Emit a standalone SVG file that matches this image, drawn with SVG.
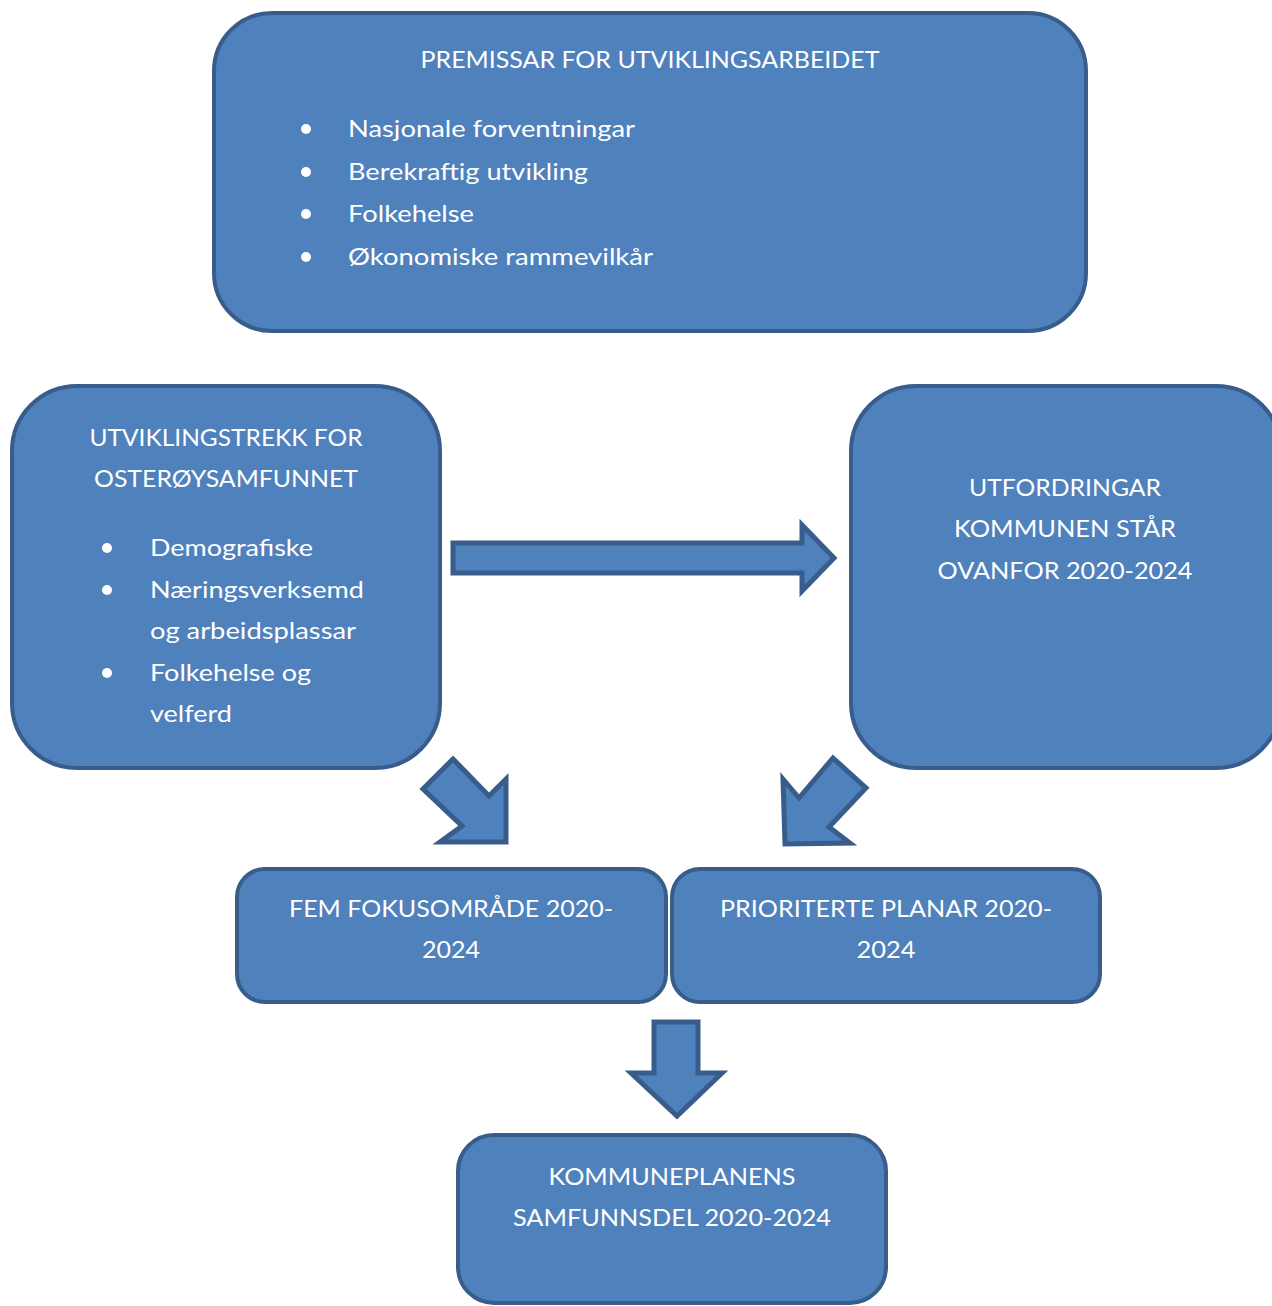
<svg xmlns="http://www.w3.org/2000/svg" width="1272" height="1306" viewBox="0 0 1272 1306">
<style>
.box{fill:#4F81BD;stroke:#385D8A;stroke-width:4}
.arr{fill:#4F81BD;stroke:#385D8A;stroke-width:5;stroke-linejoin:miter}
text{font-family:Lato,"Liberation Sans",sans-serif;font-size:24px;fill:#FFFFFF}
.c{text-anchor:middle}
.dot{fill:#FFFFFF}
</style>
<rect width="1272" height="1306" fill="#FFFFFF"/>
<g id="premissar">
<rect class="box" x="214" y="13" width="872" height="318" rx="58" ry="58"/>
<text x="650" y="68" class="c" textLength="459" lengthAdjust="spacingAndGlyphs">PREMISSAR FOR UTVIKLINGSARBEIDET</text>
<circle class="dot" cx="306" cy="129" r="5"/>
<circle class="dot" cx="306" cy="172" r="5"/>
<circle class="dot" cx="306" cy="214" r="5"/>
<circle class="dot" cx="306" cy="257" r="5"/>
<text x="348" y="137" textLength="287" lengthAdjust="spacingAndGlyphs">Nasjonale forventningar</text>
<text x="348" y="180" textLength="240" lengthAdjust="spacingAndGlyphs">Berekraftig utvikling</text>
<text x="348" y="222" textLength="126" lengthAdjust="spacingAndGlyphs">Folkehelse</text>
<text x="348" y="265" textLength="305" lengthAdjust="spacingAndGlyphs">Økonomiske rammevilkår</text>
</g>
<g id="utviklingstrekk">
<rect class="box" x="12" y="386" width="428" height="382" rx="65" ry="65"/>
<text x="226" y="446" class="c" textLength="273" lengthAdjust="spacingAndGlyphs">UTVIKLINGSTREKK FOR</text>
<text x="226" y="487" class="c" textLength="264" lengthAdjust="spacingAndGlyphs">OSTERØYSAMFUNNET</text>
<circle class="dot" cx="107" cy="548" r="5"/>
<circle class="dot" cx="107" cy="590" r="5"/>
<circle class="dot" cx="107" cy="673" r="5"/>
<text x="150" y="556" textLength="163" lengthAdjust="spacingAndGlyphs">Demografiske</text>
<text x="150" y="598" textLength="214" lengthAdjust="spacingAndGlyphs">Næringsverksemd</text>
<text x="150" y="639" textLength="206" lengthAdjust="spacingAndGlyphs">og arbeidsplassar</text>
<text x="150" y="681" textLength="161" lengthAdjust="spacingAndGlyphs">Folkehelse og</text>
<text x="150" y="722" textLength="82" lengthAdjust="spacingAndGlyphs">velferd</text>
</g>
<g id="utfordringar">
<rect class="box" x="851" y="386" width="430" height="382" rx="65" ry="65"/>
<text x="1065" y="496" class="c" textLength="192" lengthAdjust="spacingAndGlyphs">UTFORDRINGAR</text>
<text x="1065" y="537" class="c" textLength="222" lengthAdjust="spacingAndGlyphs">KOMMUNEN STÅR</text>
<text x="1065" y="579" class="c" textLength="255" lengthAdjust="spacingAndGlyphs">OVANFOR 2020-2024</text>
</g>
<g id="fokusomrade">
<rect class="box" x="237" y="869" width="429" height="133" rx="28" ry="28"/>
<text x="451" y="917" class="c" textLength="324" lengthAdjust="spacingAndGlyphs">FEM FOKUSOMRÅDE 2020-</text>
<text x="451" y="958" class="c" textLength="58" lengthAdjust="spacingAndGlyphs">2024</text>
</g>
<g id="planar">
<rect class="box" x="672" y="869" width="428" height="133" rx="28" ry="28"/>
<text x="886" y="917" class="c" textLength="332" lengthAdjust="spacingAndGlyphs">PRIORITERTE PLANAR 2020-</text>
<text x="886" y="958" class="c" textLength="59" lengthAdjust="spacingAndGlyphs">2024</text>
</g>
<g id="samfunnsdel">
<rect class="box" x="458" y="1135" width="428" height="168" rx="36" ry="36"/>
<text x="672" y="1185" class="c" textLength="247" lengthAdjust="spacingAndGlyphs">KOMMUNEPLANENS</text>
<text x="672" y="1226" class="c" textLength="318" lengthAdjust="spacingAndGlyphs">SAMFUNNSDEL 2020-2024</text>
</g>
<g id="connectors">
<polygon class="arr" points="453,543 802,543 802,525 834,558 802,591 802,573 453,573"/>
<polygon class="arr" points="453,759 489,796 506,779 506,842 440,842 462,826 423,789"/>
<polygon class="arr" points="833,758 866,788 829,827 850,843 785,844 783,779 799,798"/>
<polygon class="arr" points="654,1022 698,1022 698,1073 722,1073 677,1116 631,1073 654,1073"/>
</g>
</svg>
